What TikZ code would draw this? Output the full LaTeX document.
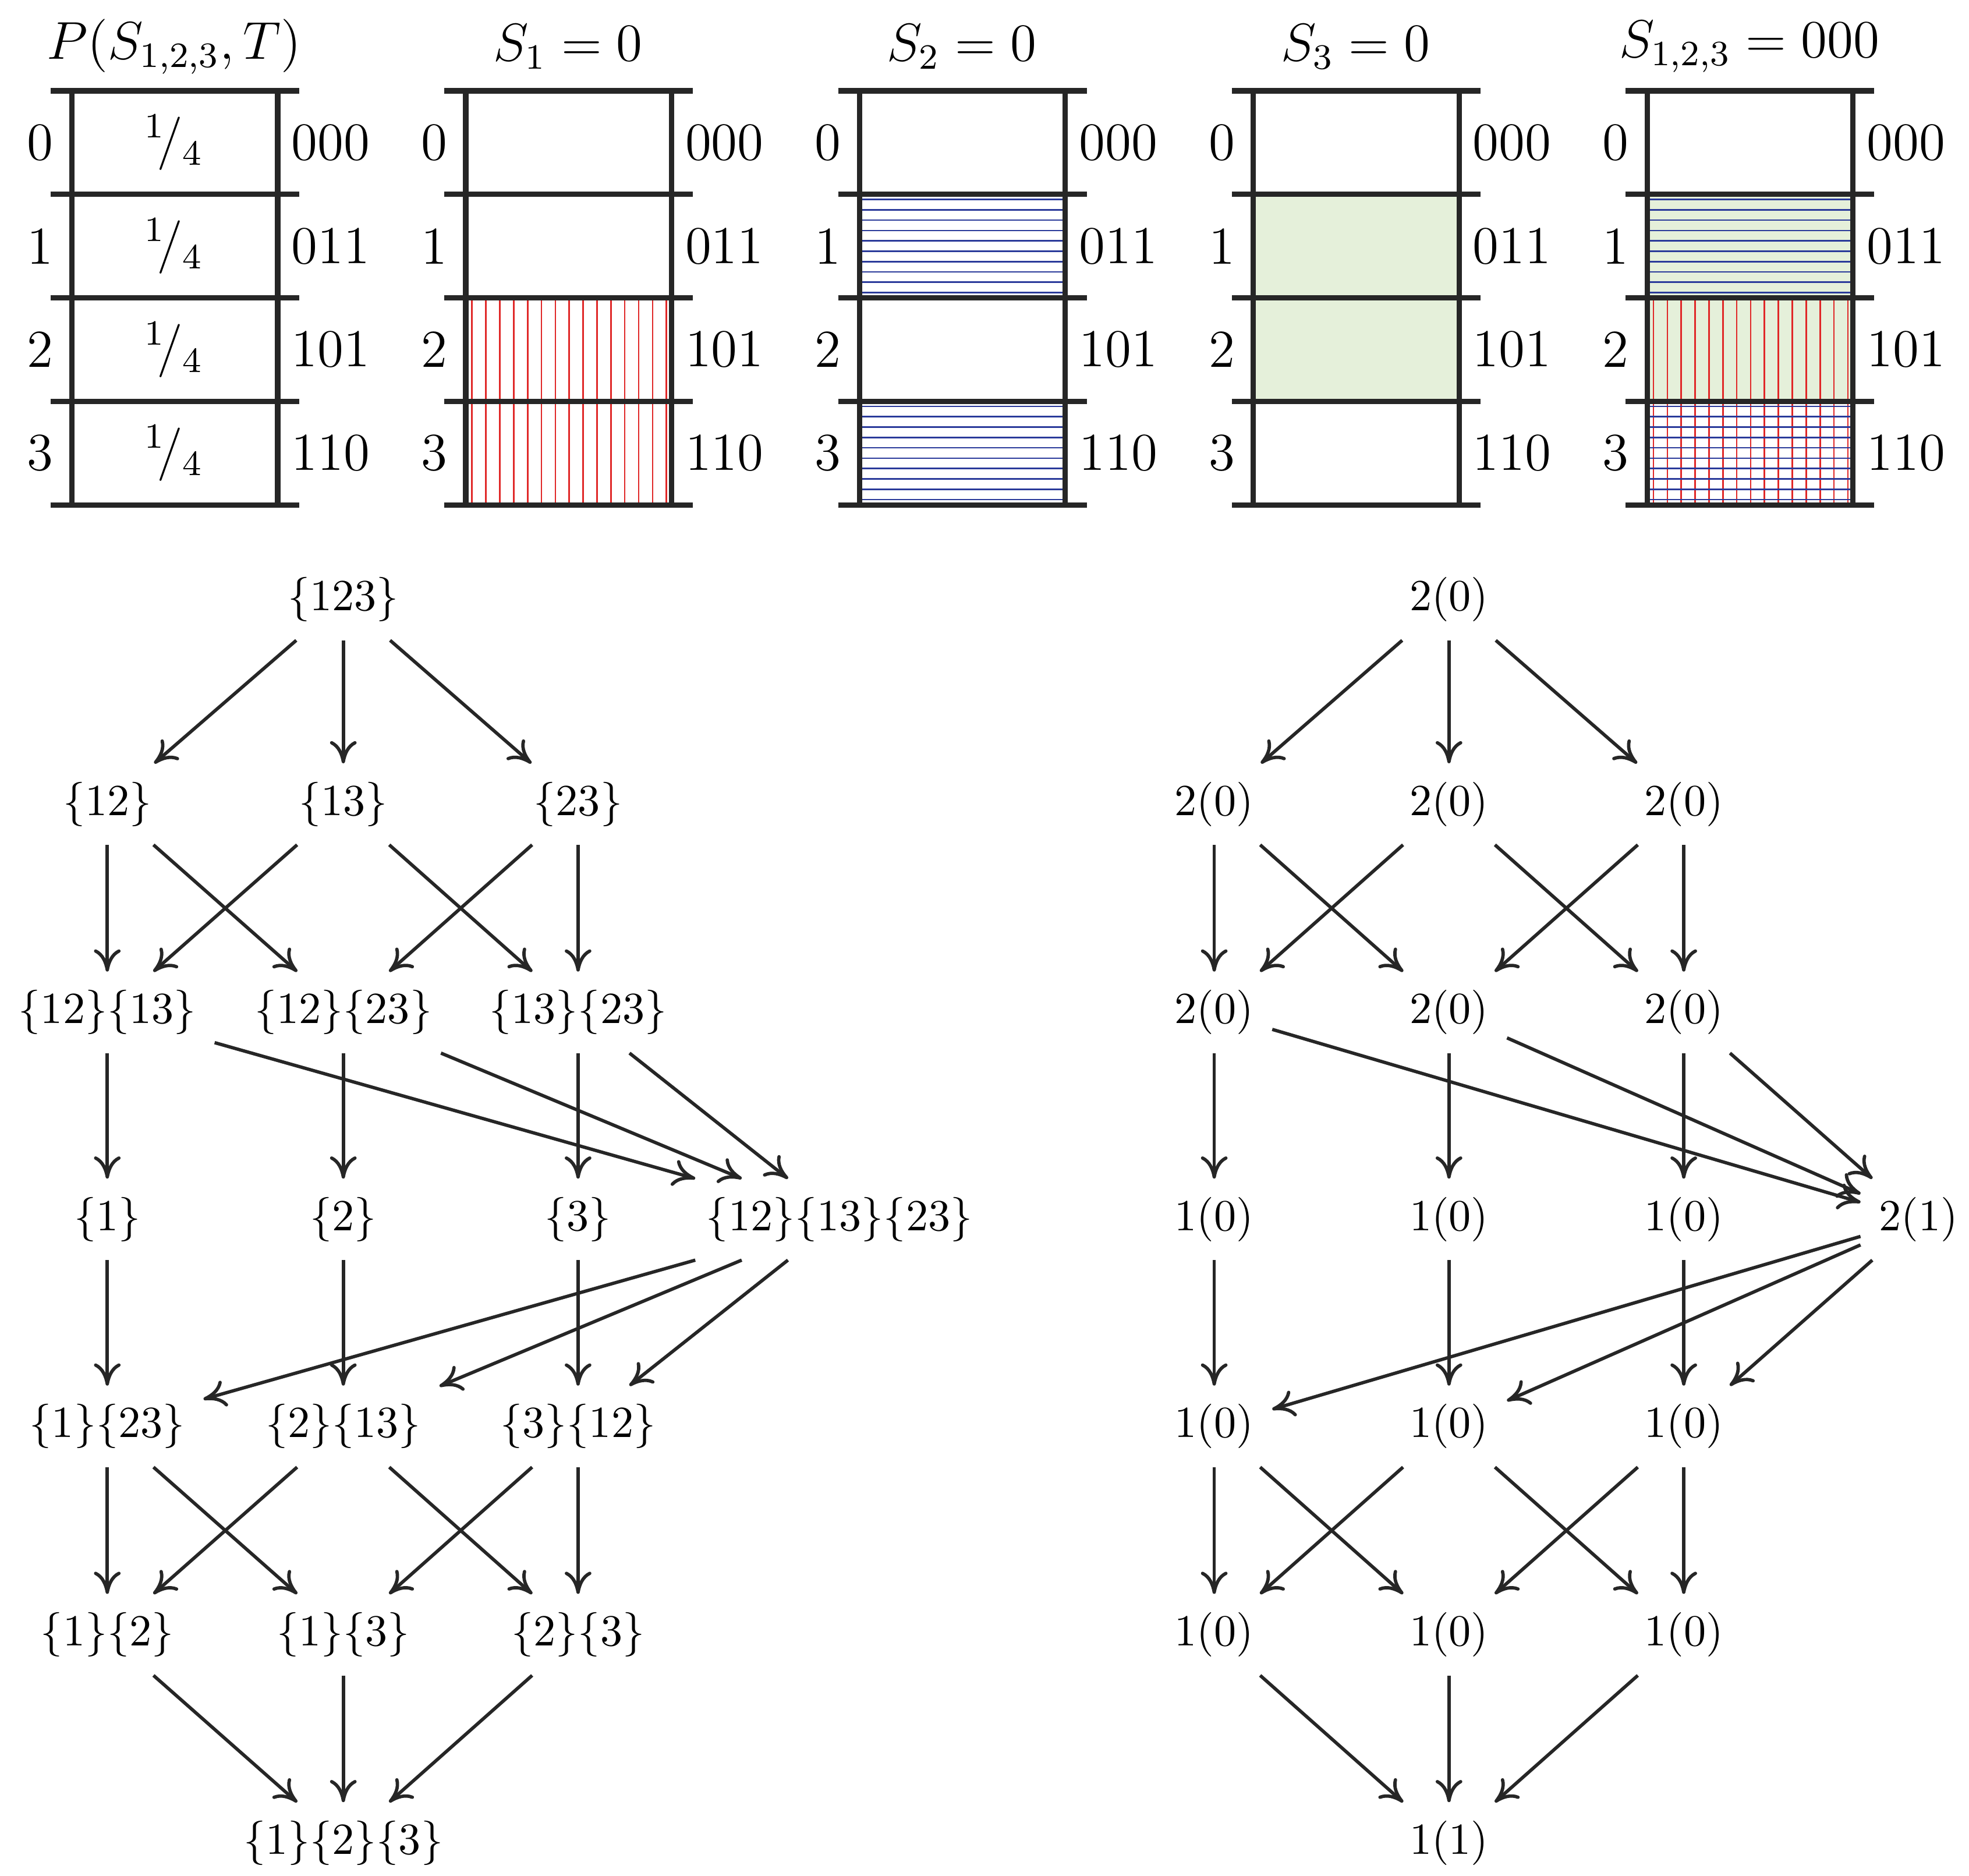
\documentclass[tikz,border=0pt]{standalone}
\usetikzlibrary{arrows.meta}
\definecolor{hr}{HTML}{E02828}
\definecolor{hb}{HTML}{2A3A9A}
\definecolor{hg}{HTML}{E5F0DA}
\newcommand\myredv[1]{\foreach \x in {62,73,...,216} \draw[hr,line width=0.35pt] (\x,{72+82*#1}) -- (\x,{154+82*#1});}
\newcommand\mybluh[1]{\foreach \y in {4,12.2,...,80} \draw[hb,line width=0.35pt] (57,{72+82*#1+\y}) -- (220,{72+82*#1+\y});}
\newcommand\mygreen[1]{\fill[hg] (57,{72+82*#1}) rectangle (220,{154+82*#1});}
\begin{document}
\begin{tikzpicture}[x=0.01cm,y=-0.01cm,
  tbl/.style={line width=1.2pt,color=black!85},
  nd/.style={inner sep=0.14cm,font=\normalsize},
  ar/.style={-{To[length=5pt,width=6pt]},line width=0.75pt,color=black!85}]
\useasboundingbox (0,0) rectangle (1560,1486);
% tables
\foreach \k/\t in {0/{$P(S_{1,2,3},T)$},1/{$S_1=0$},2/{$S_2=0$},3/{$S_3=0$},4/{$S_{1,2,3}=000$}}{
 \begin{scope}[xshift=\k*312*0.01cm]
  \ifnum\k=1 \myredv{2}\myredv{3}\fi
  \ifnum\k=2 \mybluh{1}\mybluh{3}\fi
  \ifnum\k=3 \mygreen{1}\mygreen{2}\fi
  \ifnum\k=4 \mygreen{1}\mygreen{2}\mybluh{1}\myredv{2}\myredv{3}\mybluh{3}\fi
  \node[font=\large] (title\k) at (138,37) {\t};
  \foreach \r in {0,...,4} \draw[tbl] (40,{72+82*\r}) -- (237,{72+82*\r});
  \draw[tbl] (57,72) -- (57,400);
  \draw[tbl] (220,72) -- (220,400);
  \foreach \r/\b in {0/000,1/011,2/101,3/110}{
   \node[font=\large] (l\k\r) at (32,{113+82*\r}) {\r};
   \node[font=\large] (b\k\r) at (262,{113+82*\r}) {\b};
   \ifnum\k=0 \node[font=\large] (f\r) at (138,{113+82*\r}) {$^1\!/_4$};\fi
  }
 \end{scope}
}
% left graph
\begin{scope}[font=\large]
\node[nd] (a) at (272,475) {\{123\}};
\node[nd] (b1) at (85,637) {\{12\}};
\node[nd] (b2) at (272,637) {\{13\}};
\node[nd] (b3) at (458,637) {\{23\}};
\node[nd] (c1) at (85,802) {\{12\}\{13\}};
\node[nd] (c2) at (272,802) {\{12\}\{23\}};
\node[nd] (c3) at (458,802) {\{13\}\{23\}};
\node[nd] (d1) at (85,966) {\{1\}};
\node[nd] (d2) at (272,966) {\{2\}};
\node[nd] (d3) at (458,966) {\{3\}};
\node[nd] (d4) at (665,966) {\{12\}\{13\}\{23\}};
\node[nd] (e1) at (85,1130) {\{1\}\{23\}};
\node[nd] (e2) at (272,1130) {\{2\}\{13\}};
\node[nd] (e3) at (458,1130) {\{3\}\{12\}};
\node[nd] (f1) at (85,1295) {\{1\}\{2\}};
\node[nd] (f2) at (272,1295) {\{1\}\{3\}};
\node[nd] (f3) at (458,1295) {\{2\}\{3\}};
\node[nd] (g) at (272,1460) {\{1\}\{2\}\{3\}};
% right graph
\node[nd] (ra) at (1148,475) {2(0)};
\node[nd] (rb1) at (962,637) {2(0)};
\node[nd] (rb2) at (1148,637) {2(0)};
\node[nd] (rb3) at (1334,637) {2(0)};
\node[nd] (rc1) at (962,802) {2(0)};
\node[nd] (rc2) at (1148,802) {2(0)};
\node[nd] (rc3) at (1334,802) {2(0)};
\node[nd] (rd1) at (962,966) {1(0)};
\node[nd] (rd2) at (1148,966) {1(0)};
\node[nd] (rd3) at (1334,966) {1(0)};
\node[nd] (rd4) at (1520,966) {2(1)};
\node[nd] (re1) at (962,1130) {1(0)};
\node[nd] (re2) at (1148,1130) {1(0)};
\node[nd] (re3) at (1334,1130) {1(0)};
\node[nd] (rf1) at (962,1295) {1(0)};
\node[nd] (rf2) at (1148,1295) {1(0)};
\node[nd] (rf3) at (1334,1295) {1(0)};
\node[nd] (rg) at (1148,1460) {1(1)};
\end{scope}
\foreach \p in {,r}{
 \foreach \s/\t in {a/b1,a/b2,a/b3,b1/c1,b1/c2,b2/c1,b2/c3,b3/c2,b3/c3,
   c1/d1,c1/d4,c2/d2,c2/d4,c3/d3,c3/d4,d1/e1,d2/e2,d3/e3,d4/e1,d4/e2,d4/e3,
   e1/f1,e1/f2,e2/f1,e2/f3,e3/f2,e3/f3,f1/g,f2/g,f3/g}
  \draw[ar] (\p\s) -- (\p\t);
}
\end{tikzpicture}
\end{document}
